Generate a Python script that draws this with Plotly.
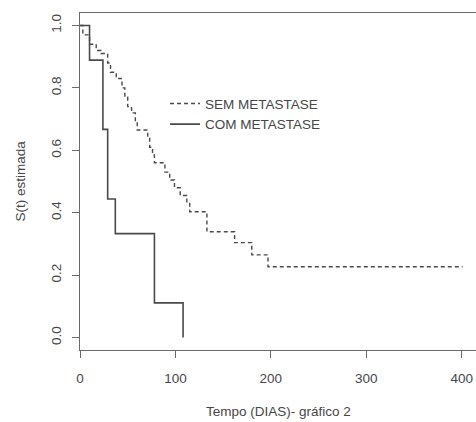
import plotly.graph_objects as go

# Kaplan-Meier estimates
sem_time = [0, 3, 10, 17, 22, 29, 32, 38, 44, 47, 50, 54, 58, 60, 71, 73, 76, 78,
            89, 94, 99, 105, 112, 115, 133, 162, 180, 197, 401]
sem_surv = [1.0, 0.97, 0.94, 0.92, 0.91, 0.88, 0.85, 0.83, 0.80, 0.77, 0.74, 0.72,
            0.69, 0.665, 0.64, 0.61, 0.585, 0.56, 0.53, 0.505, 0.48, 0.455, 0.43,
            0.403, 0.339, 0.304, 0.265, 0.227, 0.227]

com_time = [0, 10, 24, 29, 37, 78, 108]
com_surv = [1.0, 0.889, 0.667, 0.444, 0.333, 0.111, 0.0]

series_names = ["SEM METASTASE", "COM METASTASE"]
x_ticks = [0, 100, 200, 300, 400]
y_ticks = [0.0, 0.2, 0.4, 0.6, 0.8, 1.0]

FONT = "Liberation Sans, Arial, sans-serif"
LINE = "#4a4a4a"
AX = "#6a6a6a"
TXT = "#474747"
FS = 13.5

fig = go.Figure()
fig.add_trace(go.Scatter(x=sem_time, y=sem_surv, mode="lines", line_shape="hv",
                         name=series_names[0],
                         line=dict(color=LINE, width=1.4, dash="4px,3px")))
fig.add_trace(go.Scatter(x=com_time, y=com_surv, mode="lines", line_shape="hv",
                         name=series_names[1],
                         line=dict(color=LINE, width=1.6)))

fig.update_layout(
    width=476, height=422,
    margin=dict(l=80, r=0, t=12.5, b=71.5),
    paper_bgcolor="white", plot_bgcolor="white",
    font=dict(family=FONT, size=FS, color=TXT),
    showlegend=True,
    legend=dict(x=(165 - 80) / 396, y=(350.5 - 88) / 338, xanchor="left", yanchor="top",
                bgcolor="rgba(0,0,0,0)", font=dict(size=FS, color=TXT),
                tracegroupgap=0, itemwidth=30),
    xaxis=dict(range=[0, 415], tickvals=x_ticks, showgrid=False, zeroline=False,
               showline=True, linecolor=AX, linewidth=1.2, mirror=True,
               ticks="outside", ticklen=7, tickcolor=AX, tickwidth=1.2,
               ticklabelstandoff=9,
               tickfont=dict(size=FS, color=TXT)),
    yaxis=dict(range=[-0.04, 1.04], tickvals=y_ticks, tickformat=".1f",
               showgrid=False, zeroline=False,
               showline=True, linecolor=AX, linewidth=1.2,
               ticks="outside", ticklen=7, tickcolor=AX, tickwidth=1.2,
               ticklabelstandoff=6,
               tickangle=-90, tickfont=dict(size=FS, color=TXT)),
    annotations=[
        dict(text="Tempo (DIAS)- gráfico 2", xref="paper", yref="paper", x=0.5, y=0,
             yshift=-61.5, showarrow=False, xanchor="center", yanchor="middle",
             font=dict(size=FS, color=TXT)),
        dict(text="S(t) estimada", xref="paper", yref="paper", x=0, y=0.5,
             xshift=-60, showarrow=False, xanchor="center", yanchor="middle",
             textangle=-90, font=dict(size=FS, color=TXT)),
    ],
)

fig.write_html("out.html", config={"displayModeBar": False},
               post_script="document.body.style.margin='0px';")
